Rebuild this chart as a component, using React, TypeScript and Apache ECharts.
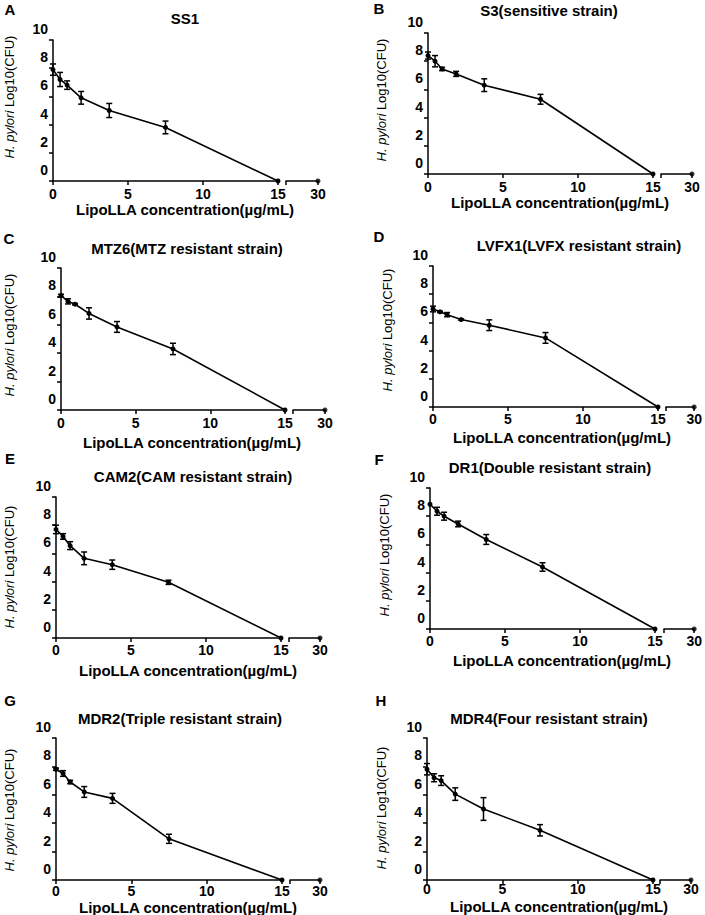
import React, { useEffect, useRef } from "react";
import * as echarts from "echarts";

// Concentrations of LipoLLA (µg/mL)
const concentrations = [0, 0.47, 0.94, 1.875, 3.75, 7.5, 15, 30];
const xTicksLeft = [0, 5, 10, 15];
const xTickRight = 30;
const yTicks = [0, 2, 4, 6, 8, 10];

// log10(CFU) means and SEM per strain
const ss1Means = [7.9, 7.2, 6.8, 5.9, 5.0, 3.8, 0, 0];
const ss1Err = [0.4, 0.5, 0.3, 0.45, 0.5, 0.45, 0, 0];
const s3Means = [8.4, 8.0, 7.45, 7.1, 6.3, 5.3, 0, 0];
const s3Err = [0.25, 0.4, 0.12, 0.18, 0.45, 0.35, 0, 0];
const mtz6Means = [8.05, 7.65, 7.45, 6.8, 5.85, 4.3, 0, 0];
const mtz6Err = [0.1, 0.18, 0.05, 0.4, 0.38, 0.4, 0, 0];
const lvfx1Means = [6.95, 6.75, 6.55, 6.2, 5.8, 4.9, 0, 0];
const lvfx1Err = [0.2, 0.05, 0.15, 0.05, 0.38, 0.38, 0, 0];
const cam2Means = [7.7, 7.2, 6.55, 5.65, 5.2, 3.95, 0, 0];
const cam2Err = [0.3, 0.2, 0.28, 0.45, 0.33, 0.15, 0, 0];
const dr1Means = [8.85, 8.35, 8.0, 7.45, 6.35, 4.4, 0, 0];
const dr1Err = [0, 0.28, 0.28, 0.2, 0.35, 0.3, 0, 0];
const mdr2Means = [7.8, 7.5, 6.9, 6.2, 5.75, 2.9, 0, 0];
const mdr2Err = [0.08, 0.2, 0.12, 0.38, 0.35, 0.32, 0, 0];
const mdr4Means = [7.8, 7.2, 7.0, 6.05, 5.0, 3.5, 0, 0];
const mdr4Err = [0.4, 0.28, 0.34, 0.44, 0.8, 0.4, 0, 0];

const panelLetters = ["A", "B", "C", "D", "E", "F", "G", "H"];
const panelTitles = [
  "SS1",
  "S3(sensitive strain)",
  "MTZ6(MTZ resistant strain)",
  "LVFX1(LVFX resistant strain)",
  "CAM2(CAM resistant strain)",
  "DR1(Double resistant strain)",
  "MDR2(Triple resistant strain)",
  "MDR4(Four resistant strain)",
];
const panelMeans = [ss1Means, s3Means, mtz6Means, lvfx1Means, cam2Means, dr1Means, mdr2Means, mdr4Means];
const panelErrs = [ss1Err, s3Err, mtz6Err, lvfx1Err, cam2Err, dr1Err, mdr2Err, mdr4Err];

const xAxisTitle = "LipoLLA concentration(µg/mL)";
const yAxisTitle = "{i|H. pylori} Log10(CFU)";

// layout (pixel positions) for each panel
const layout = [
  { left: 53, top: 40, x15: 278, bottom: 181, rL: 286, rR: 318, tX: 185, tY: 18, aX: 185, aY: 209, yX: 9, yY: 97, lX: 10, lY: 9, lm: 6 },
  { left: 428, top: 33, x15: 653, bottom: 174, rL: 661, rR: 692, tX: 549, tY: 10, aX: 560, aY: 202, yX: 381, yY: 100, lX: 379, lY: 8, lm: 6 },
  { left: 61, top: 268, x15: 285, bottom: 410, rL: 293, rR: 325, tX: 187, tY: 248, aX: 192, aY: 442, yX: 9, yY: 335, lX: 9, lY: 238, lm: 6 },
  { left: 433, top: 266, x15: 658, bottom: 407, rL: 666, rR: 697, tX: 579, tY: 245, aX: 562, aY: 437, yX: 387, yY: 330, lX: 379, lY: 236, lm: 5 },
  { left: 56, top: 497, x15: 281, bottom: 638, rL: 289, rR: 320, tX: 193, tY: 476, aX: 188, aY: 670, yX: 9, yY: 567, lX: 10, lY: 458, lm: 5 },
  { left: 430, top: 488, x15: 655, bottom: 629, rL: 664, rR: 695, tX: 550, tY: 467, aX: 562, aY: 660, yX: 384, yY: 555, lX: 379, lY: 459, lm: 5 },
  { left: 56, top: 738, x15: 282, bottom: 880, rL: 290, rR: 320, tX: 180, tY: 718, aX: 188, aY: 907, yX: 9, yY: 810, lX: 10, lY: 700, lm: 4 },
  { left: 427, top: 738, x15: 653, bottom: 880, rL: 660, rR: 691, tX: 549, tY: 718, aX: 559, aY: 906, yX: 381, yY: 808, lX: 381, lY: 700, lm: 2 },
];

const FONT = '"Liberation Sans", Arial, Helvetica, sans-serif';

function buildOption() {
  const grid: any[] = [];
  const xAxis: any[] = [];
  const yAxis: any[] = [];
  const series: any[] = [];
  const graphic: any[] = [];

  const axisLine = { show: true, lineStyle: { color: "#000", width: 1.5 } };
  const axisTick = { show: true, inside: false, length: 4, lineStyle: { color: "#000", width: 1.5 } };

  layout.forEach((L, i) => {
    const gL = i * 2;
    const gR = i * 2 + 1;
    grid.push({ left: L.left, top: L.top, width: L.x15 - L.left, height: L.bottom - L.top });
    grid.push({ left: L.rL, top: L.top, width: L.rR - L.rL, height: L.bottom - L.top });

    const xLabel = {
      color: "#000",
      fontFamily: FONT,
      fontWeight: "bold",
      fontSize: 14,
      margin: L.lm,
      lineHeight: 14,
      showMinLabel: true,
      showMaxLabel: true,
    };

    xAxis.push({
      type: "value",
      gridIndex: gL,
      min: xTicksLeft[0],
      max: xTicksLeft[xTicksLeft.length - 1],
      interval: 5,
      axisLine,
      axisTick,
      splitLine: { show: false },
      axisLabel: xLabel,
    });
    xAxis.push({
      type: "value",
      gridIndex: gR,
      min: 20,
      max: xTickRight,
      interval: 10,
      axisLine,
      axisTick,
      splitLine: { show: false },
      axisLabel: {
        ...xLabel,
        formatter: (v: number) => (v === xTickRight ? String(xTickRight) : ""),
      },
    });
    yAxis.push({
      type: "value",
      gridIndex: gL,
      min: yTicks[0],
      max: yTicks[yTicks.length - 1],
      interval: 2,
      axisLine,
      axisTick,
      splitLine: { show: false },
      axisLabel: {
        color: "#000",
        fontFamily: FONT,
        fontWeight: "bold",
        fontSize: 14,
        margin: 5,
        verticalAlign: "bottom",
        lineHeight: 14,
        padding: [0, 0, 4, 0],
      },
    });
    yAxis.push({
      type: "value",
      gridIndex: gR,
      min: yTicks[0],
      max: yTicks[yTicks.length - 1],
      interval: 2,
      show: false,
    });

    const means = panelMeans[i];
    const errs = panelErrs[i];
    const leftData = concentrations
      .map((c, j) => [c, means[j]])
      .filter((d) => d[0] <= 15);
    const errData = concentrations
      .map((c, j) => [c, means[j], errs[j]])
      .filter((d) => d[0] <= 15 && d[2] > 0);
    const rightData = concentrations
      .map((c, j) => [c, means[j]])
      .filter((d) => d[0] > 15);

    series.push({
      type: "line",
      xAxisIndex: gL,
      yAxisIndex: gL,
      data: leftData,
      symbol: "circle",
      symbolSize: 5,
      clip: false,
      itemStyle: { color: "#000" },
      lineStyle: { color: "#000", width: 1.6 },
      z: 3,
    });
    series.push({
      type: "custom",
      xAxisIndex: gL,
      yAxisIndex: gL,
      data: errData,
      encode: { x: 0, y: 1 },
      clip: false,
      z: 4,
      renderItem: (params: any, api: any) => {
        const x = api.value(0);
        const y = api.value(1);
        const e = api.value(2);
        const top = api.coord([x, y + e]);
        const bot = api.coord([x, y - e]);
        const w = 3;
        const st = { stroke: "#000", lineWidth: 1.5 };
        return {
          type: "group",
          children: [
            { type: "line", shape: { x1: top[0], y1: top[1], x2: bot[0], y2: bot[1] }, style: st },
            { type: "line", shape: { x1: top[0] - w, y1: top[1], x2: top[0] + w, y2: top[1] }, style: st },
            { type: "line", shape: { x1: bot[0] - w, y1: bot[1], x2: bot[0] + w, y2: bot[1] }, style: st },
          ],
        };
      },
    });
    series.push({
      type: "scatter",
      xAxisIndex: gR,
      yAxisIndex: gR,
      data: rightData,
      symbol: "circle",
      symbolSize: 5,
      clip: false,
      itemStyle: { color: "#000" },
      z: 3,
    });

    graphic.push({
      type: "text",
      x: L.tX,
      y: L.tY,
      style: {
        text: panelTitles[i],
        fill: "#000",
        font: `bold 15px ${FONT}`,
        textAlign: "center",
        textVerticalAlign: "middle",
      },
    });
    graphic.push({
      type: "text",
      x: L.lX,
      y: L.lY,
      style: {
        text: panelLetters[i],
        fill: "#000",
        font: `bold 15px ${FONT}`,
        textAlign: "center",
        textVerticalAlign: "middle",
      },
    });
    graphic.push({
      type: "text",
      x: L.aX,
      y: L.aY,
      style: {
        text: xAxisTitle,
        fill: "#000",
        font: `bold 15px ${FONT}`,
        textAlign: "center",
        textVerticalAlign: "middle",
      },
    });
    graphic.push({
      type: "text",
      x: L.yX,
      y: L.yY,
      rotation: Math.PI / 2,
      style: {
        text: yAxisTitle,
        fill: "#000",
        fontFamily: FONT,
        fontSize: 13,
        textAlign: "center",
        textVerticalAlign: "middle",
        rich: {
          i: { fontStyle: "italic", fontFamily: FONT, fontSize: 13, fill: "#000" },
        },
      },
    });
  });

  return {
    animation: false,
    backgroundColor: "#fff",
    grid,
    xAxis,
    yAxis,
    series,
    graphic: { elements: graphic },
  };
}

export default function App() {
  const ref = useRef<HTMLDivElement | null>(null);
  useEffect(() => {
    if (!ref.current) return;
    const chart = echarts.init(ref.current, null, { renderer: "svg" });
    chart.setOption(buildOption() as any);
    return () => chart.dispose();
  }, []);
  return (
    <div
      ref={ref}
      style={{ position: "absolute", left: 0, top: 0, width: 705, height: 915, background: "#fff" }}
    />
  );
}
